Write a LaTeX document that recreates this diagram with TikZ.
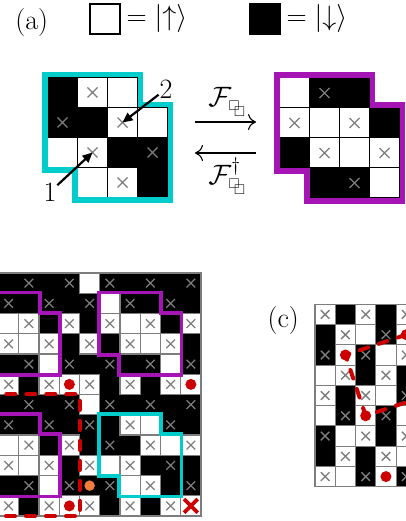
\RequirePackage{fix-cm}
\documentclass[tikz,border=0pt]{standalone}
\usepackage{amssymb}
\usetikzlibrary{arrows.meta,shapes.misc}
\definecolor{myred}{RGB}{204,0,0}
\definecolor{mypurple}{RGB}{165,20,180}
\definecolor{mycyan}{RGB}{0,204,204}
\definecolor{myorange}{RGB}{240,125,60}
\definecolor{xgray}{RGB}{125,125,125}
\definecolor{gridgray}{RGB}{125,125,125}
\newcommand{\dsq}{\mathord{\rlap{$\scriptscriptstyle\square$}\kern0.2em\raisebox{-0.2em}{$\scriptscriptstyle\square$}}}
\def\xlw{1.3}
\newcommand{\lattice}[5]{%
  \foreach \row [count=\rr from 0] in {#5} {
    \foreach \tp [count=\cc from 0] in \row {
      \node[cellbase, minimum size=#4+0.4, cell\tp] (#1-\rr-\cc) at ({#2+(\cc+0.5)*#4},{#3+(\rr+0.5)*#4}) {};
    }
  }
  \foreach \row [count=\rr from 0] in {#5} {
    \foreach \tp [count=\cc from 0] in \row {
      \path[ov\tp] ([shift={(-#4/2,-#4/2)}]#1-\rr-\cc.center) rectangle ([shift={(#4/2,#4/2)}]#1-\rr-\cc.center);
    }
  }
}
\newcommand{\shapeline}[5]{%
  \draw[#1] ({#2-#5},{#3-#5}) -- ({#2+3*#4+#5},{#3-#5}) -- ({#2+3*#4+#5},{#3+#4-#5})
    -- ({#2+4*#4+#5},{#3+#4-#5}) -- ({#2+4*#4+#5},{#3+4*#4+#5}) -- ({#2+#4-#5},{#3+4*#4+#5})
    -- ({#2+#4-#5},{#3+3*#4+#5}) -- ({#2-#5},{#3+3*#4+#5}) -- cycle;}
\tikzset{
  cellbase/.style={rectangle, inner sep=0, outer sep=0, draw=none},
  cellK/.style={fill=black}, cellKX/.style={fill=black},
  cellW/.style={fill=white}, cellWX/.style={fill=white},
  cellN/.style={fill=none},
  ovN/.style={}, ovK/.style={},
  xm/.style={path picture={\draw[xgray,line width=\xlw]
     ([shift={(-#1,-#1)}]path picture bounding box.center) -- ([shift={(#1,#1)}]path picture bounding box.center)
     ([shift={(-#1,#1)}]path picture bounding box.center) -- ([shift={(#1,-#1)}]path picture bounding box.center);}},
  lab/.style={font=\fontsize{28}{34}\selectfont, inner sep=0},
  ptr/.style={line width=2.2, -{Triangle[length=10,width=9]}},
  cmarr/.style={line width=1.1, -{Computer Modern Rightarrow[length=8,width=16]}},
  reddot/.style={circle, fill=myred, inner sep=0, minimum size=11},
  reddash/.style={myred, line width=4, dash pattern=on 9 off 11, line cap=round},
}
\begin{document}
\begin{tikzpicture}[x=1pt,y=-1pt]
\useasboundingbox (0,0) rectangle (406,521);
\fill[white] (0,0) rectangle (406,521);
\clip (0,0) rectangle (406,521);

% legend
\node[lab] (la) at (31.7,22.5) {(a)};
\node[draw=black, line width=1.6, minimum size=30.3, inner sep=0] (upbox) at (105,19) {};
\node[lab] (upeq) at (157,18.3) {$=|{\uparrow}\rangle$};
\node[fill=black, minimum size=32, inner sep=0] (dnbox) at (265,19) {};
\node[lab] (dneq) at (317,18.3) {$=|{\downarrow}\rangle$};

% panel (a) lattices
\begin{scope}[ovW/.style={draw=black,line width=1}, ovWX/.style={draw=black,line width=1,xm=5}, ovKX/.style={xm=5}]
\def\xlw{1.1}
\lattice{aL}{47.5}{77.5}{30}{{K,WX,W,N},{KX,K,WX,W},{W,WX,K,KX},{N,W,WX,K}}
\lattice{aR}{279.5}{78}{30}{{W,KX,K,N},{WX,W,WX,K},{K,WX,W,WX},{N,K,KX,W}}
\end{scope}
\shapeline{mycyan, line width=5.6}{47.5}{77.5}{30}{2.8}
\shapeline{mypurple, line width=5.6}{279.5}{78}{30}{2.8}

\node[lab] (n2) at (166,89) {2};
\node[lab] (n1) at (50,192) {1};
\draw[ptr, shorten <=1] (n2) -- (aL-1-2.center);
\draw[ptr, shorten <=1] (n1) -- (aL-2-1.center);

\coordinate (fr1) at (195,122);
\coordinate (fr2) at (256,122);
\coordinate (fl1) at (195,153);
\coordinate (fl2) at (256,153);
\draw[cmarr] (fr1) -- (fr2);
\draw[cmarr] (fl2) -- (fl1);
\node[lab] (fup) at (227,102) {$\mathcal{F}_{\dsq}$};
\node[lab] (fdn) at (227,176) {$\mathcal{F}^{\dagger}_{\dsq}$};

% panel (b)
\begin{scope}[ovW/.style={draw=gridgray,line width=1.1}, ovWX/.style={draw=gridgray,line width=1.1,xm=4.3}, ovKX/.style={xm=4.3}]
\def\xlw{1.4}
\lattice{b}{-1.5}{273}{20.25}{
 {K,KX,K,KX,W,KX,K,KX,K,KX},
 {KX,K,KX,K,KX,W,KX,K,KX,K},
 {W,WX,K,WX,K,WX,W,WX,K,WX},
 {WX,W,WX,K,WX,K,WX,W,WX,K},
 {K,KX,W,KX,K,KX,K,KX,W,KX},
 {WX,K,WX,W,WX,K,WX,K,WX,W},
 {K,KX,K,KX,W,KX,K,KX,K,KX},
 {KX,K,KX,K,KX,K,WX,W,KX,K},
 {W,WX,K,WX,K,KX,K,WX,W,WX},
 {WX,W,WX,K,WX,W,WX,K,KX,K},
 {K,KX,W,KX,K,KX,W,WX,K,KX},
 {WX,K,WX,W,WX,K,WX,K,WX,W}}
\end{scope}
\draw[gridgray, line width=1.1] (-1.5,273) rectangle (201,516);
\shapeline{mypurple, line width=3.8}{-21.75}{293.25}{20.25}{0.8}
\shapeline{mypurple, line width=3.8}{99.75}{293.25}{20.25}{0.8}
\shapeline{mypurple, line width=3.8}{-21.75}{414.75}{20.25}{0.8}
\shapeline{mycyan, line width=3.8}{99.75}{414.75}{20.25}{0.8}
\draw[reddash] ([xshift=-12]b-6-0.north west) -- (b-6-3.north east) -- (b-11-3.south east) -- ([xshift=-12]b-11-0.south west);
\node[reddot] (bd1) at (b-5-3.center) {};
\node[reddot] (bd2) at (b-5-9.center) {};
\node[reddot] (bd3) at (b-11-3.center) {};
\node[circle, fill=myorange, inner sep=0, minimum size=10.5] (bo) at (b-10-4.center) {};
\node[cross out, draw=myred, line width=3.6, minimum size=10, inner sep=0] (bx) at (b-11-9.center) {};

% panel (c)
\node[lab] (lc) at (283.3,320.8) {(c)};
\begin{scope}[ovW/.style={draw=gridgray,line width=1.1}, ovWX/.style={draw=gridgray,line width=1.1,xm=4.3}, ovKX/.style={xm=4.3}]
\def\xlw{1.4}
\lattice{c}{315}{304.3}{20.27}{
 {WX,K,WX,K,WX},
 {K,WX,W,KX,W},
 {KX,W,KX,W,WX},
 {W,WX,K,WX,K},
 {WX,K,WX,W,KX},
 {W,KX,W,KX,W},
 {KX,W,WX,K,WX},
 {K,WX,K,WX,W},
 {WX,W,KX,W,KX}}
\end{scope}
\draw[gridgray, line width=1.3] (315,304.3) rectangle (420,486.7);
\coordinate (cfree) at ({315+5.5*20.27},{304.3+4.5*20.27});
\draw[reddash] (c-1-4.center) -- (c-2-1.center) -- (c-5-2.center) -- (cfree);
\node[reddot] (cd1) at (c-1-4.center) {};
\node[reddot] (cd2) at (c-2-1.center) {};
\node[reddot] (cd3) at (c-5-2.center) {};
\node[reddot] (cd4) at (c-8-3.center) {};
\end{tikzpicture}
\end{document}
